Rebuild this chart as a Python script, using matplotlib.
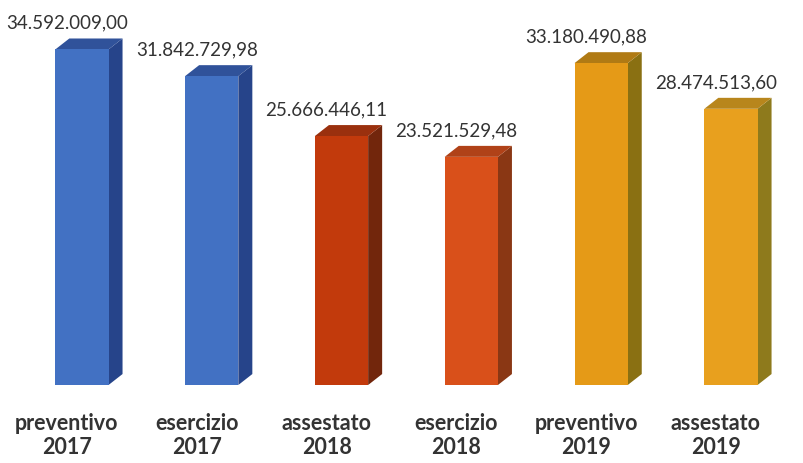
import numpy as np
import matplotlib
matplotlib.use("Agg")
import matplotlib.pyplot as plt
from matplotlib.patches import Polygon
from matplotlib.transforms import blended_transform_factory

categories = ["preventivo\n2017", "esercizio\n2017", "assestato\n2018",
              "esercizio\n2018", "preventivo\n2019", "assestato\n2019"]
values = [34592009.00, 31842729.98, 25666446.11, 23521529.48, 33180490.88, 28474513.60]
value_labels = ["34.592.009,00", "31.842.729,98", "25.666.446,11",
                "23.521.529,48", "33.180.490,88", "28.474.513,60"]

front_colors = ["#4271C3", "#4271C3", "#C23A0C", "#D9501A", "#E59A17", "#E8A01E"]
side_colors = ["#26448A", "#26448A", "#72260C", "#8A3714", "#8A7012", "#8E7A1C"]
top_colors = ["#30529A", "#30529A", "#9A300E", "#B04218", "#B07A14", "#B8861C"]

plt.rcParams['font.family'] = ['Lato', 'DejaVu Sans']

fig = plt.figure(figsize=(8.04, 4.63), dpi=100)
ax = fig.add_axes([0, 0, 1, 1])
ax.axis('off')

x = np.arange(len(values))
ax.set_xlim(-0.516, 5.678)
ax.set_ylim(-8.04e6, 39.69e6)

# bar geometry (front face shifted right of category centre, fake 3d depth)
off, w = 0.115, 0.41
dx, dy = 0.108, 1.13e6

ax.bar(x + off, values, width=w, color=front_colors, zorder=3)
for i, v in enumerate(values):
    r = x[i] + off + w / 2
    l = x[i] + off - w / 2
    side = Polygon([(r, 0), (r + dx, dy), (r + dx, v + dy), (r, v)],
                   closed=True, facecolor=side_colors[i], edgecolor='none', zorder=2)
    top = Polygon([(l, v), (l + dx, v + dy), (r + dx, v + dy), (r, v)],
                  closed=True, facecolor=top_colors[i], edgecolor='none', zorder=2)
    ax.add_patch(side)
    ax.add_patch(top)
    ax.annotate(value_labels[i], (x[i], v + dy), xytext=(0, 5), textcoords='offset points',
                ha='center', va='bottom', fontsize=13.5, color='#333333')

trans = blended_transform_factory(ax.transData, ax.transAxes)
for i, c in enumerate(categories):
    ax.text(x[i], 0.06, c, transform=trans, ha='center', va='center',
            fontsize=15.5, fontweight='bold', color='#333333', linespacing=1.2)

fig.savefig("out.png", dpi=100)
